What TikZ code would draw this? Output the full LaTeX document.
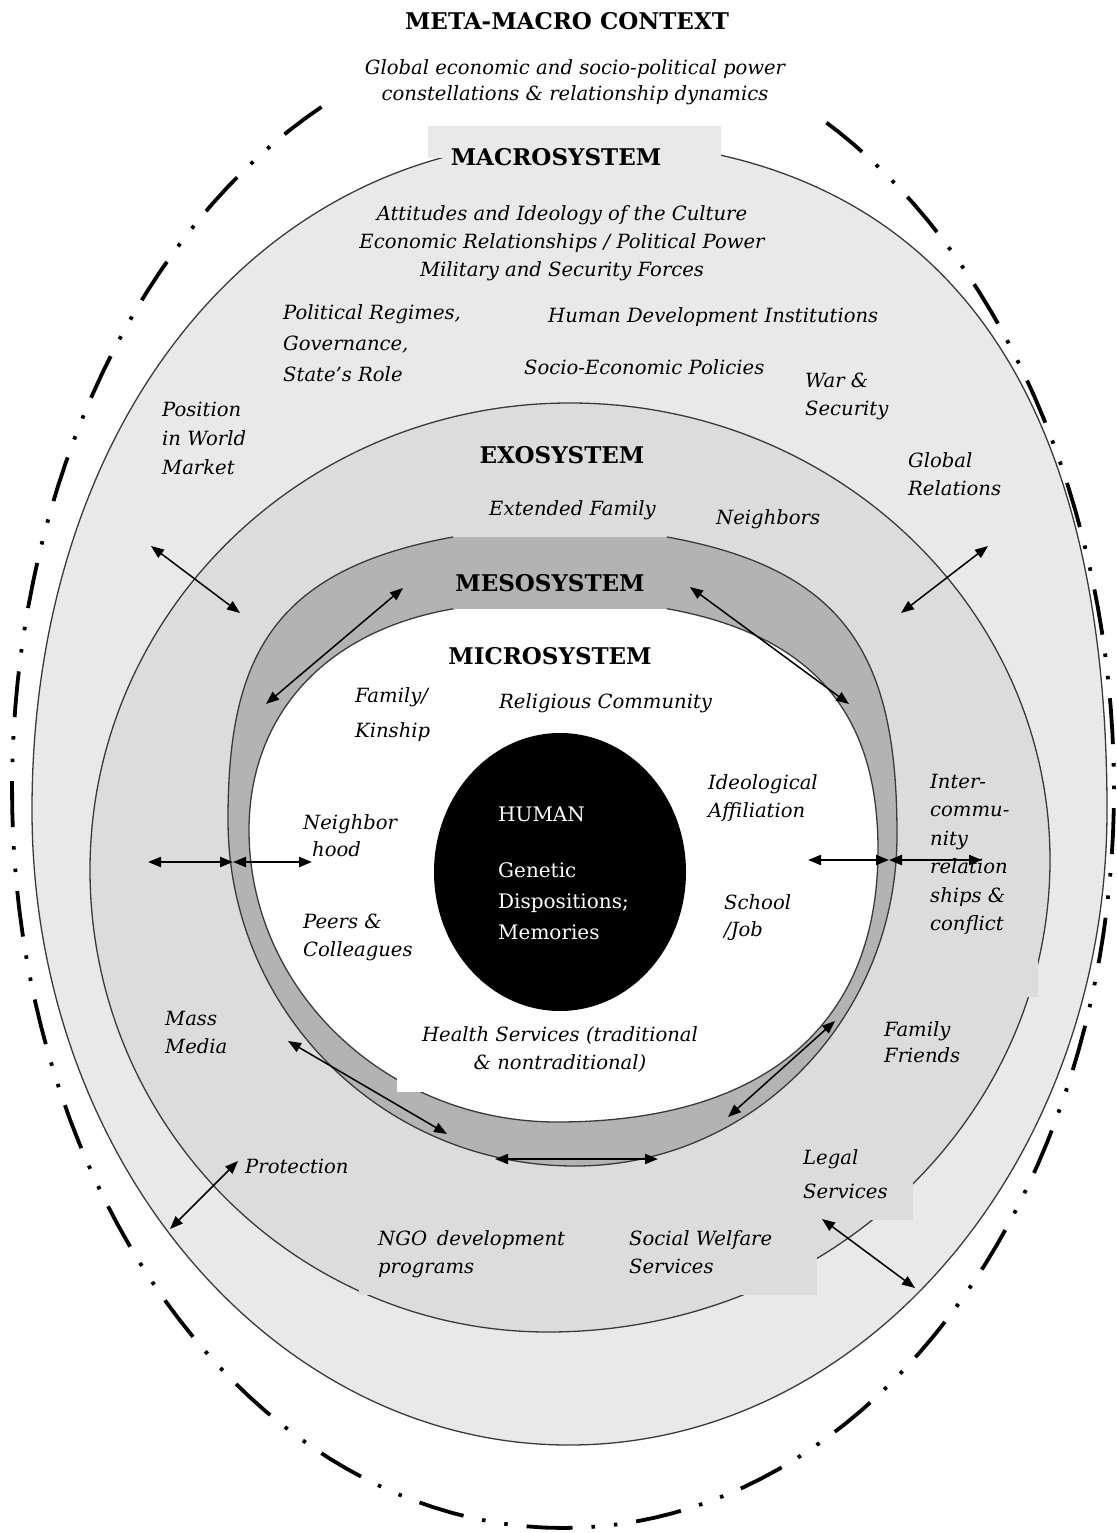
\documentclass[tikz,border=0pt]{standalone}
\usepackage{fontspec}
\setmainfont{DejaVu Serif}
\usetikzlibrary{arrows.meta,shapes.geometric}
\definecolor{macrofill}{HTML}{E9E9E9}
\definecolor{exofill}{HTML}{DCDCDC}
\definecolor{mesofill}{HTML}{B3B3B3}
\definecolor{rimline}{HTML}{3A3A3A}
\tikzset{
  rim/.style={draw=rimline, line width=1.3pt},
  layertitle/.style={font=\bfseries\fontsize{23}{26}\selectfont, inner sep=0pt},
  itl/.style={font=\itshape\fontsize{19.6}{28}\selectfont, inner sep=0pt, align=left},
  humantext/.style={font=\fontsize{20}{31}\selectfont, text=white, inner sep=0pt, align=left},
  biarrow/.style={{Triangle[length=13pt,width=10pt]}-{Triangle[length=13pt,width=10pt]}, line width=1.5pt},
  metaline/.style={line width=3.8pt, dash pattern=on 46pt off 19pt on 3.5pt off 19pt on 3.5pt off 19pt},
}
\begin{document}
\begin{tikzpicture}[x=1pt,y=-1pt]
\useasboundingbox (0,0) rectangle (1116,1533);

% ---- macrosystem layer
\filldraw[fill=macrofill, rim] (575,140) .. controls (926,140) and (1107,368) .. (1107,810)
  .. controls (1107,1160) and (866,1445) .. (569,1445)
  .. controls (273,1445) and (32,1160) .. (32,810)
  .. controls (32,421) and (260,140) .. (575,140) -- cycle;
\fill[macrofill] (428,126) rectangle (721,158);

% ---- exosystem layer
\filldraw[fill=exofill, rim] (570,403) .. controls (835,403) and (1050,608) .. (1050,860)
  .. controls (1050,1120) and (825,1332) .. (548,1332)
  .. controls (295,1332) and (90,1125) .. (90,870)
  .. controls (90,612) and (305,403) .. (570,403) -- cycle;
\fill[exofill] (359,1200) rectangle (817,1295);
\fill[exofill] (795,1140) rectangle (913,1220);
\fill[exofill] (905,790) rectangle (1038,997);

% ---- mesosystem ring
\fill[mesofill] (453,537) -- (667,537) .. controls (850,570) and (897,660) .. (897,835)
  .. controls (897,1018) and (753,1166) .. (575,1166)
  .. controls (383,1166) and (228,1011) .. (228,820)
  .. controls (228,660) and (270,570) .. (453,537) -- cycle;
\draw[rim] (667,537) .. controls (850,570) and (897,660) .. (897,835)
  .. controls (897,1018) and (753,1166) .. (575,1166)
  .. controls (383,1166) and (228,1011) .. (228,820)
  .. controls (228,660) and (270,570) .. (453,537);

% ---- microsystem
\fill[white] (458,608) -- (663,608) .. controls (820,635) and (878,720) .. (878,850)
  .. controls (878,1030) and (759,1122) .. (557,1122)
  .. controls (387,1122) and (249,991) .. (249,830)
  .. controls (249,720) and (320,630) .. (458,608) -- cycle;
\draw[rim] (663,608) .. controls (820,635) and (878,720) .. (878,850)
  .. controls (878,1030) and (759,1122) .. (557,1122)
  .. controls (387,1122) and (249,991) .. (249,830)
  .. controls (249,720) and (320,630) .. (458,608);
\fill[mesofill] (453,537) rectangle (667,609);
\fill[white] (397,1015) rectangle (728,1092);

% ---- the human core
\node[ellipse, fill=black, minimum width=252pt, minimum height=278pt, inner sep=0pt] (core) at (560,872) {};

% ---- arrow end points
\coordinate (wmA) at (151,546);  \coordinate (wmB) at (240,613);
\coordinate (grA) at (988,546);  \coordinate (grB) at (901,613);
\coordinate (mlA) at (403,588);  \coordinate (mlB) at (266,704);
\coordinate (mrA) at (690,587);  \coordinate (mrB) at (849,704);
\coordinate (hlA) at (148,862);  \coordinate (hlM) at (233,862); \coordinate (hlB) at (312,862);
\coordinate (hrA) at (808,860);  \coordinate (hrM) at (889,860); \coordinate (hrB) at (982,860);
\coordinate (blA) at (288,1041); \coordinate (blB) at (447,1134);
\coordinate (brA) at (835,1021); \coordinate (brB) at (728,1117);
\coordinate (bcA) at (495,1159); \coordinate (bcB) at (658,1159);
\coordinate (prA) at (238,1161); \coordinate (prB) at (170,1229);
\coordinate (lgA) at (822,1219); \coordinate (lgB) at (915,1288);

\draw[biarrow] (wmA) -- (wmB);
\draw[biarrow] (grA) -- (grB);
\draw[biarrow] (mlA) -- (mlB);
\draw[biarrow] (mrA) -- (mrB);
\draw[biarrow, line width=2.2pt] (hlA) -- (hlM);
\draw[biarrow, line width=2.2pt] (hlM) -- (hlB);
\draw[biarrow, line width=2.2pt] (hrA) -- (hrM);
\draw[biarrow, line width=2.2pt] (hrM) -- (hrB);
\draw[biarrow] (blA) -- (blB);
\draw[biarrow] (brA) -- (brB);
\draw[biarrow, line width=2pt] (bcA) -- (bcB);
\draw[biarrow] (prA) -- (prB);
\draw[biarrow] (lgA) -- (lgB);

% ---- labels
\node[layertitle, anchor=base] (meta) at (567,30) {META-MACRO CONTEXT};
\node[itl, align=center, anchor=north, font=\itshape\fontsize{19.6}{26}\selectfont] (metatext) at (575,59) {Global economic and socio-political power\\constellations \& relationship dynamics};
\node[layertitle, anchor=base] (macrot) at (556,166) {MACROSYSTEM};
\node[itl, align=center, anchor=north] (macroA) at (562,205) {Attitudes and Ideology of the Culture\\Economic Relationships / Political Power\\Military and Security Forces};
\node[itl, anchor=north west, font=\itshape\fontsize{19.6}{31}\selectfont] (regimes) at (283,304) {Political Regimes,\\Governance,\\State's Role};
\node[itl, anchor=base west] (hdi) at (548,322) {Human Development Institutions};
\node[itl, anchor=base west] (sep) at (524,374) {Socio-Economic Policies};
\node[itl, anchor=north west] (war) at (805,373) {War \&\\Security};
\node[itl, anchor=north west, font=\itshape\fontsize{19.6}{29}\selectfont] (wmarket) at (162,402) {Position\\in World\\Market};
\node[itl, anchor=north west] (globrel) at (908,452) {Global\\Relations};
\node[layertitle, anchor=base] (exot) at (562,463) {EXOSYSTEM};
\node[itl, anchor=base west] (extfam) at (489,515) {Extended Family};
\node[itl, anchor=base west] (neighbors) at (716,524) {Neighbors};
\node[layertitle, anchor=base] (mesot) at (550,591) {MESOSYSTEM};
\node[layertitle, anchor=base] (microt) at (550,664) {MICROSYSTEM};
\node[itl, anchor=north west, font=\itshape\fontsize{19.6}{35}\selectfont] (kin) at (355,687) {Family/\\Kinship};
\node[itl, anchor=base west] (relig) at (499,708) {Religious Community};
\node[itl, anchor=north west] (ideo) at (708,774) {Ideological\\Affiliation};
\node[itl, anchor=north west, font=\itshape\fontsize{19.6}{28.5}\selectfont] (intercom) at (930,774) {Inter-\\commu-\\nity\\relation\\ships \&\\conflict};
\node[itl, anchor=north west, font=\itshape\fontsize{19.6}{27}\selectfont] (nbhood) at (303,814) {Neighbor\\\hspace*{9pt}hood};
\node[humantext, anchor=north west] (human) at (498,807) {HUMAN};
\node[humantext, anchor=north west] (genetic) at (498,862) {Genetic\\Dispositions;\\Memories};
\node[itl, anchor=north west, font=\itshape\fontsize{19.6}{27}\selectfont] (school) at (724,894) {School\\/Job};
\node[itl, anchor=north west] (peers) at (303,914) {Peers \&\\Colleagues};
\node[itl, anchor=north west] (media) at (165,1011) {Mass\\Media};
\node[itl, align=center, anchor=north] (health) at (560,1026) {Health Services (traditional\\\& nontraditional)};
\node[itl, anchor=north west, font=\itshape\fontsize{19.6}{26}\selectfont] (famfr) at (884,1021) {Family\\Friends};
\node[itl, anchor=base west] (protect) at (245,1173) {Protection};
\node[itl, anchor=north west, font=\itshape\fontsize{19.6}{34}\selectfont] (legal) at (803,1149) {Legal\\Services};
\node[itl, anchor=north west] (ngo) at (378,1230) {NGO\hspace{0.5em}development\\programs};
\node[itl, anchor=north west] (welfare) at (629,1230) {Social Welfare\\Services};

% ---- meta-macro boundary (open at the top for the heading)
\draw[metaline] plot[domain=116:422, samples=160, variable=\t]
  ({563+551*cos(\t)}, {790-(sin(\t)>0 ? 760 : 738)*sin(\t)});
\end{tikzpicture}
\end{document}
